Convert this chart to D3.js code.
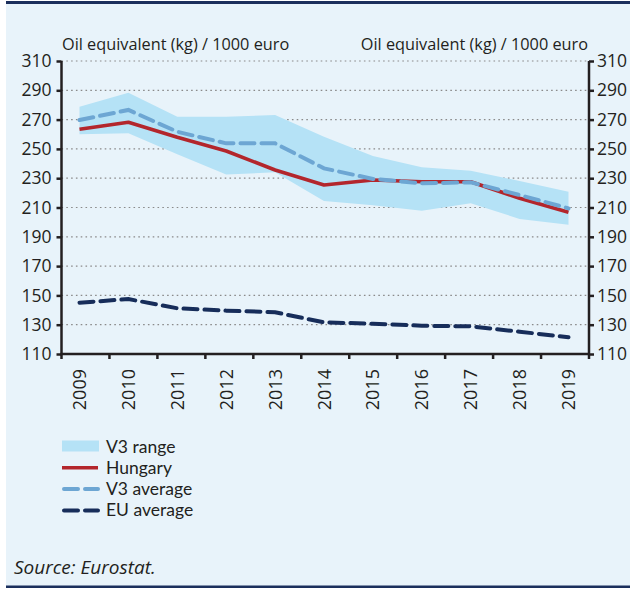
<!DOCTYPE html>
<html><head><meta charset="utf-8">
<script src="https://cdn.jsdelivr.net/npm/d3@7"></script>
<style>
html,body{margin:0;padding:0;background:#fff;}
svg{display:block;font-family:"Open Sans", sans-serif;}
</style></head>
<body>
<svg id="chart" width="630" height="589"></svg>
<script>
const years = ["2009","2010","2011","2012","2013","2014","2015","2016","2017","2018","2019"];
const hungary = [263.4, 268.2, 257.9, 248.6, 235.6, 225.4, 228.8, 227.6, 227.6, 216.3, 206.7];
const v3Average = [269.7, 276.6, 261.7, 253.8, 253.8, 236.7, 229.5, 226.5, 227.2, 218.5, 209.4];
const v3RangeHigh = [278.8, 288.4, 272.0, 272.0, 273.1, 258.3, 245.2, 237.4, 235.1, 228.1, 220.8];
const v3RangeLow = [260.0, 260.6, 246.3, 232.6, 234.0, 214.4, 211.5, 207.8, 212.9, 202.2, 198.3];
const euAverage = [145.0, 147.5, 141.2, 139.6, 138.5, 131.6, 130.7, 129.3, 128.9, 125.2, 121.4];
const yTicks = [110,130,150,170,190,210,230,250,270,290,310];
const axisTitle = "Oil equivalent (kg) / 1000 euro";
const legendItems = ["V3 range","Hungary","V3 average","EU average"];
const sourceText = "Source: Eurostat.";

const svg = d3.select("#chart");
const C = {bg:"#e8f3fa", navy:"#1b2f5c", range:"#b5e2f6", red:"#b3262c", v3:"#6da6d3", eu:"#172d5a", text:"#231f20"};
const F = "'Open Sans', sans-serif";

svg.append("rect").attr("x",6).attr("y",3).attr("width",624).attr("height",584).attr("fill",C.bg);
svg.append("rect").attr("x",6).attr("y",1).attr("width",624).attr("height",3).attr("fill",C.navy);
svg.append("rect").attr("x",6).attr("y",585.5).attr("width",624).attr("height",2.5).attr("fill",C.navy);

const L = 61.5, R = 589, T = 61, B = 354;
const y = d3.scaleLinear().domain([110,310]).range([B,T]);
const xBand = d3.scaleBand().domain(years).range([L,R]).padding(0);
const x = d3.scalePoint().domain(years).range([79.5,568.5]);

svg.append("g").selectAll("line").data(yTicks.filter(d=>d>110)).join("line")
  .attr("x1",L).attr("x2",R).attr("y1",d=>y(d)).attr("y2",d=>y(d))
  .attr("stroke","#8a8a8a").attr("stroke-width",1.2).attr("stroke-dasharray","1.6,3.2");

const area = d3.area().x((d,i)=>x(years[i])).y0((d,i)=>y(v3RangeLow[i])).y1(d=>y(d));
svg.append("path").datum(v3RangeHigh).attr("d",area).attr("fill",C.range);

const line = d3.line().x((d,i)=>x(years[i])).y(d=>y(d));
svg.append("path").datum(hungary).attr("d",line).attr("fill","none")
  .attr("stroke",C.red).attr("stroke-width",3.6).attr("stroke-linejoin","round");
svg.append("path").datum(v3Average).attr("d",line).attr("fill","none")
  .attr("stroke",C.v3).attr("stroke-width",4).attr("stroke-dasharray","14,7").attr("stroke-linecap","round");
svg.append("path").datum(euAverage).attr("d",line).attr("fill","none")
  .attr("stroke",C.eu).attr("stroke-width",4).attr("stroke-dasharray","14,7").attr("stroke-linecap","round");

const yl = svg.append("g").attr("transform",`translate(${L},0)`)
  .call(d3.axisLeft(y).tickValues(yTicks).tickSize(5).tickPadding(5).tickFormat(d3.format("d")));
const yr = svg.append("g").attr("transform",`translate(${R},0)`)
  .call(d3.axisRight(y).tickValues(yTicks).tickSize(5).tickPadding(3).tickFormat(d3.format("d")));
[yl,yr].forEach(g=>{
  g.select(".domain").attr("stroke","#231f20").attr("stroke-width",2.5).attr("d",`M0,${T}V${B}`);
  g.selectAll(".tick line").attr("stroke","#231f20").attr("stroke-width",2.5);
  g.selectAll(".tick text").attr("fill",C.text).style("font-size","17.5px").style("font-family",F);
});

const xg = svg.append("g");
xg.append("line").attr("x1",L-1).attr("x2",R+1).attr("y1",B).attr("y2",B).attr("stroke","#231f20").attr("stroke-width",2.5);
const bounds = years.map(d=>xBand(d)).concat([xBand(years[years.length-1])+xBand.bandwidth()]);
xg.selectAll("line.tk").data(bounds).join("line").attr("class","tk")
  .attr("x1",d=>d).attr("x2",d=>d).attr("y1",B).attr("y2",B+5)
  .attr("stroke","#231f20").attr("stroke-width",2.5);
xg.selectAll("text").data(years).join("text")
  .attr("transform",d=>`translate(${x(d)+6.5},${B+15}) rotate(-90)`)
  .attr("text-anchor","end").attr("fill",C.text).style("font-size","18px").text(d=>d);

svg.append("text").attr("x",62).attr("y",50).attr("fill",C.text).style("font-size","16.3px").text(axisTitle);
svg.append("text").attr("x",588).attr("y",50).attr("text-anchor","end").attr("fill",C.text).style("font-size","16.3px").text(axisTitle);

const lg = svg.append("g");
const ly = [446.5,467.8,489.1,510.4];
lg.append("rect").attr("x",62).attr("y",ly[0]-6).attr("width",37).attr("height",11).attr("fill",C.range);
lg.append("line").attr("x1",62).attr("x2",98).attr("y1",ly[1]).attr("y2",ly[1]).attr("stroke",C.red).attr("stroke-width",3.6);
lg.append("line").attr("x1",64).attr("x2",98).attr("y1",ly[2]).attr("y2",ly[2]).attr("stroke",C.v3).attr("stroke-width",4).attr("stroke-dasharray","14,7").attr("stroke-linecap","round");
lg.append("line").attr("x1",64).attr("x2",98).attr("y1",ly[3]).attr("y2",ly[3]).attr("stroke",C.eu).attr("stroke-width",4).attr("stroke-dasharray","14,7").attr("stroke-linecap","round");
lg.selectAll("text").data(legendItems).join("text")
  .attr("x",106).attr("y",(d,i)=>ly[i]+6).attr("fill",C.text)
  .style("font-family","Lato, sans-serif").style("font-size","17.5px").text(d=>d);

svg.append("text").attr("x",14).attr("y",574).attr("fill",C.text).style("font-size","19px").style("font-style","italic").text(sourceText);
</script>
</body></html>
